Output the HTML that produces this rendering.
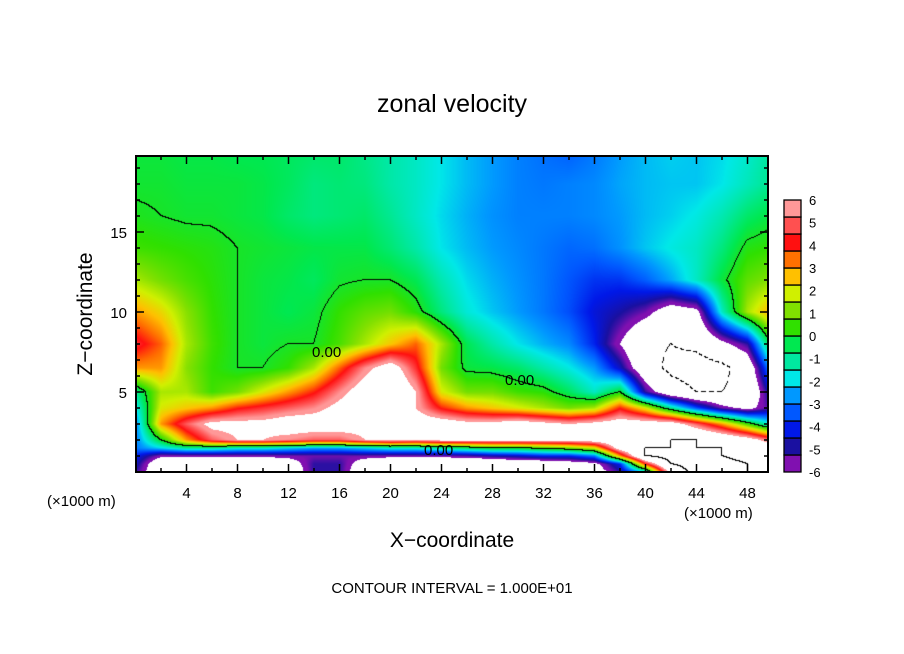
<!DOCTYPE html>
<html><head><meta charset="utf-8"><style>
body{margin:0;background:#fff;width:904px;height:654px;overflow:hidden;position:relative;font-family:"Liberation Sans",sans-serif;}
svg text{font-family:"Liberation Sans",sans-serif;}
</style></head><body>
<svg id="s" width="904" height="654" style="position:absolute;left:0;top:0">
<foreignObject x="136" y="156" width="632" height="316"><canvas xmlns="http://www.w3.org/1999/xhtml" id="cv" width="632" height="316" style="display:block"></canvas></foreignObject>
<g id="ov"></g>
</svg>
<script>
const xs=[0,2,4,6,8,10,12,14,16,18,20,22,24,26,28,30,32,34,36,38,40,42,44,46,48,50];
const zs=[0,0.5,1,1.5,2,3,4,5,6.5,8,10,12,14,16,18,20];
const row0=[-5,-7.5,-8,-8,-8,-8,-7.5,-5,-5,-7.5,-8,-8.5,-8.5,-8.5,-8,-7.5,-7.5,-7.5,-7,-5,-2,7,10,10,9,8];
const row05=[-4.5,-7.5,-8,-8,-7.5,-7.5,-7,-5,-5,-7,-8,-8.5,-8.5,-8.5,-8,-7.5,-7.5,-7,-6.5,-4,4,9,10,10,9,8];
const row1=[-4,-5.8,-5.8,-5.8,-5.8,-5.8,-5.6,-5.5,-5.5,-5.5,-5.6,-5.6,-5.5,-5.3,-4.8,-4.5,-4,-4,-3,3,9,10,10,9,8,7];
const row15=[-3,-2,-1,-1,-1.5,-1.5,-2,-2.5,-2.5,-2,-1.5,-1.5,-1,-0.5,0,0,0.5,1,2,7,9,9,9,9,8,7];
const row2=[-3,0,3,5,6,6,5.5,5,5,6,6.5,6,6.5,6.5,6.5,6.5,6.5,6.5,7,8,8.5,9,9,8,7,5];
const row3=[-3,3,5,6.5,6.5,6.5,7,7,7,6.5,7,7,7,6.5,6.5,7,6.5,6,6.5,7,7,7,5,3,0.5,-2];
const row4=[-2,2,2.5,3,4,4.5,5,5.5,6.5,7,7.5,6,4,3,2.5,2,1.5,1,1.5,4,2,-1,-3.5,-5.5,-6.5,-5];
const row5=[-1,1.5,1.5,0.5,1,2,3,4,5.5,7,8,6,2,1,1,0.5,0.3,-0.5,-1.5,0,-5,-7.5,-8.5,-8.5,-8,-4];
const row65=[3,3,1.2,0.4,0,0,0.4,1.5,3.5,5.5,7,4.5,1,-0.2,-0.3,-0.6,-1.2,-1.8,-2.6,-4.5,-7.5,-9,-9.5,-9,-7.5,-2];
const row8=[4.5,3.5,1.5,0.5,0,-0.2,0,0,0.6,1.5,2.5,3.5,1.5,-0.4,-1.2,-1.9,-2.4,-2.8,-4,-6,-8,-8.5,-8,-6.5,-5,0.5];
const row10=[3,2.3,1.2,0.4,0,-0.2,-0.4,-0.2,0.4,0.8,1,0.3,-0.8,-1.7,-2.2,-2.6,-3,-3.5,-4.3,-4.8,-5.5,-7,-6.5,-1.5,1.5,3];
const row12=[1.5,1,0.6,0.3,0,-0.2,-0.3,-0.5,-0.1,0,0,-0.4,-1.3,-2,-2.4,-2.7,-3,-3.4,-3.8,-3.8,-3.3,-2.5,-1.5,-0.2,0.8,1.2];
const row14=[0.5,0.4,0.3,0.2,0,-0.1,-0.2,-0.3,-0.3,-0.3,-0.7,-1.2,-1.9,-2.3,-2.6,-2.8,-3,-3.2,-3.1,-2.7,-2.2,-1.8,-1.5,-0.8,0.2,0.4];
const row16=[0.1,0,-0.1,-0.1,-0.2,-0.3,-0.6,-0.8,-0.7,-0.6,-1,-1.5,-2,-2.4,-2.7,-2.9,-2.9,-2.9,-2.8,-2.6,-2.3,-2.1,-1.8,-1.3,-0.6,-0.2];
const row18=[-0.1,-0.1,-0.2,-0.2,-0.2,-0.3,-0.5,-0.8,-0.7,-0.8,-1.2,-1.5,-1.9,-2.3,-2.6,-2.9,-3,-2.9,-2.8,-2.5,-2.3,-2.2,-2.2,-1.9,-1.4,-0.9];
const row20=[-0.2,-0.2,-0.3,-0.3,-0.4,-0.4,-0.5,-0.6,-0.6,-0.9,-1.2,-1.5,-1.9,-2.3,-2.6,-2.9,-3.1,-3.3,-3,-2.6,-2.3,-2.1,-2.2,-2,-1.6,-1];
const grid=[row0,row05,row1,row15,row2,row3,row4,row5,row65,row8,row10,row12,row14,row16,row18,row20];
const xTicks=[4,8,12,16,20,24,28,32,36,40,44,48];
const zTicks=[5,10,15];
const cbLabels=["6","5","4","3","2","1","0","-1","-2","-3","-4","-5","-6"];
const cbColors=["#8010b0","#1a10a0","#0018e8","#0058ff","#0098ff","#00e8e8","#00e8a0","#00e850","#30e000","#80e000","#d0f000","#ffc000","#ff7000","#ff1010","#ff5050","#ff9898"];

const X0=136,X1=768,Y0=156,Y1=472,XMAX=49.6,ZMAX=19.75;
const sx=x=>135.5+x*12.75, sz=z=>472-z*16;
function hex(c){return [parseInt(c.slice(1,3),16),parseInt(c.slice(3,5),16),parseInt(c.slice(5,7),16)];}
const cols=cbColors.map(hex);
function color(v){
  if(v>6||v<-6) return [255,255,255];
  let t=(v+6)/0.75-0.5; if(t<0)t=0; if(t>15)t=15;
  const i=Math.floor(t), f=t-i, a=cols[i], b=cols[Math.min(i+1,15)];
  return [a[0]+(b[0]-a[0])*f,a[1]+(b[1]-a[1])*f,a[2]+(b[2]-a[2])*f];
}
function field(x,z){
  let i=Math.floor(x/2); if(i>24)i=24; if(i<0)i=0;
  let fx=(x-xs[i])/2; fx=Math.max(0,Math.min(1,fx));
  let j=0; while(j<zs.length-2&&z>zs[j+1]) j++;
  let fz=(z-zs[j])/(zs[j+1]-zs[j]); fz=Math.max(0,Math.min(1,fz));
  const a=grid[j][i],b=grid[j][i+1],c=grid[j+1][i],d=grid[j+1][i+1];
  return (a*(1-fx)+b*fx)*(1-fz)+(c*(1-fx)+d*fx)*fz;
}
const cv=document.getElementById('cv'),ctx=cv.getContext('2d');
const W=632,H=316,img=ctx.createImageData(W,H),V=new Float32Array(W*H);
for(let py=0;py<H;py++)for(let px=0;px<W;px++){
  const x=(X0+px+0.5-135.5)/12.75, z=(472-(Y0+py+0.5))/16;
  V[py*W+px]=field(x,z);
}
for(let py=0;py<H;py++)for(let px=0;px<W;px++){
  const v=V[py*W+px]; let c=color(v);
  const r=px<W-1?V[py*W+px+1]:v, dn=py<H-1?V[(py+1)*W+px]:v;
  if((v>=0)!==(r>=0)||(v>=0)!==(dn>=0)) c=[0,0,0];
  else if(((v>=-8.5)!==(r>=-8.5)||(v>=-8.5)!==(dn>=-8.5))&&((px+py)%8<5)) c=[0,0,0];
  else if((v>=9)!==(r>=9)||(v>=9)!==(dn>=9)) c=[0,0,0];
  const k=(py*W+px)*4; img.data[k]=c[0];img.data[k+1]=c[1];img.data[k+2]=c[2];img.data[k+3]=255;
}
ctx.putImageData(img,0,0);

const NS='http://www.w3.org/2000/svg',ov=document.getElementById('ov');
function mk(t,a,txt){const e=document.createElementNS(NS,t);for(const k in a)e.setAttribute(k,a[k]);if(txt!==undefined)e.textContent=txt;ov.appendChild(e);return e;}
let e;
e=mk('rect',{x:X0,y:Y0,width:X1-X0,height:Y1-Y0,fill:'none',stroke:'#000','stroke-width':2});


for(let x=2;x<=XMAX;x+=2){
  const L=(x%4===0)?8:4;
  mk('line',{x1:sx(x),x2:sx(x),y1:Y1,y2:Y1-L,stroke:'#000','stroke-width':1.5});
  mk('line',{x1:sx(x),x2:sx(x),y1:Y0,y2:Y0+L,stroke:'#000','stroke-width':1.5});
}
for(let z=1;z<ZMAX;z++){
  const L=(z%5===0)?8:4;
  mk('line',{x1:X0,x2:X0+L,y1:sz(z),y2:sz(z),stroke:'#000','stroke-width':1.5});
  mk('line',{x1:X1,x2:X1-L,y1:sz(z),y2:sz(z),stroke:'#000','stroke-width':1.5});
}
xTicks.forEach(x=>{e=mk('text',{x:sx(x),y:498,'font-size':15,'text-anchor':'middle'},String(x));

});
zTicks.forEach(z=>{e=mk('text',{x:127,y:sz(z)+6,'font-size':15,'text-anchor':'end'},String(z));

});
const CB0=200,CB1=472,bh=(CB1-CB0)/cbColors.length;
cbColors.forEach((c,i)=>{e=mk('rect',{x:784,y:CB1-(i+1)*bh,width:17,height:bh,fill:c,stroke:'#000','stroke-width':1.3});

});
cbLabels.forEach((l,i)=>{e=mk('text',{x:809,y:CB0+i*(CB1-CB0)/12+5,'font-size':13},l);

});
[[312,357],[505,385],[424,455]].forEach(p=>{e=mk('text',{x:p[0],y:p[1],'font-size':15},'0.00');

});
e=mk('text',{x:452,y:112,'font-size':25,'text-anchor':'middle'},'zonal velocity');


e=mk('text',{x:452,y:547,'font-size':21,'text-anchor':'middle'},'X\u2212coordinate');


e=mk('text',{x:0,y:0,'font-size':21,'text-anchor':'middle',transform:'translate(92,314) rotate(-90)'},'Z\u2212coordinate');


e=mk('text',{x:47,y:506,'font-size':15},'(\u00d71000 m)');


e=mk('text',{x:684,y:518,'font-size':15},'(\u00d71000 m)');


e=mk('text',{x:452,y:593,'font-size':15,'text-anchor':'middle'},'CONTOUR INTERVAL = 1.000E+01');


</script>
</body></html>
